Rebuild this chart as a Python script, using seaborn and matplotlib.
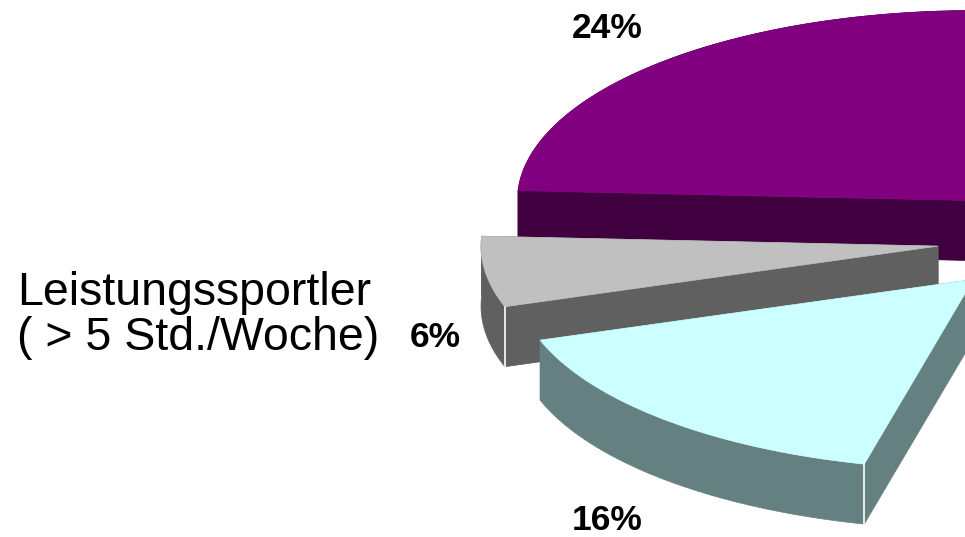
import numpy as np
import matplotlib
matplotlib.use("Agg")
import matplotlib.pyplot as plt
from matplotlib.patches import Polygon
import seaborn as sns

# ---- data ----
shares = [24, 6, 16]                      # percent of the visible slices
pct_labels = ["24%", "6%", "16%"]
category_lines = ["Leistungssportler", "( > 5 Std./Woche)"]
top_colors = ["#800080", "#C0C0C0", "#CCFFFF"]
side_colors = ["#400040", "#606060", "#658080"]

# ---- layout ----
sns.set_theme(style="white")
plt.rcParams['font.family'] = ['Liberation Sans', 'DejaVu Sans']

W, H = 965, 537
fig = plt.figure(figsize=(W / 100, H / 100), dpi=100)
ax = fig.add_axes([0, 0, 1, 1])
ax.set_xlim(0, W)
ax.set_ylim(H, 0)
ax.axis('off')

cx, cy, rx, ry, depth = 1063, 239, 457, 190, 60
start_angle = 90.6          # slices run counter-clockwise from here
explode = [0.28, 0.276, 0.29]

edges = start_angle + np.concatenate([[0], np.cumsum(shares)]) * 3.6


def proj(theta_deg, ox, oy):
    t = np.radians(theta_deg)
    return cx + ox + rx * np.cos(t), cy + oy - ry * np.sin(t)


for i, (a, b) in enumerate(zip(edges[:-1], edges[1:])):
    mid = np.radians((a + b) / 2)
    ox = explode[i] * rx * np.cos(mid)
    oy = -explode[i] * ry * np.sin(mid)
    z = 2 + i * 3
    ts = np.linspace(a, b, 240)
    top_arc = np.array([proj(t, ox, oy) for t in ts])
    bot_arc = top_arc + np.array([0, depth])
    apex = np.array([cx + ox, cy + oy])
    apex_b = apex + np.array([0, depth])

    # walls (all in side colour)
    wall = np.vstack([top_arc, bot_arc[::-1]])
    ax.add_patch(Polygon(wall, closed=True, fc=side_colors[i], ec=side_colors[i], lw=0.5, zorder=z))
    for p_top in (top_arc[0], top_arc[-1]):
        quad = np.array([apex, p_top, p_top + [0, depth], apex_b])
        ax.add_patch(Polygon(quad, closed=True, fc=side_colors[i], ec=side_colors[i], lw=0.5, zorder=z))
    # top face
    top = np.vstack([apex, top_arc])
    ax.add_patch(Polygon(top, closed=True, fc=top_colors[i], ec=top_colors[i], lw=0.5, zorder=z + 1))
    # white vertical edge where the visible radial face meets the visible outer wall
    tb = np.radians(b)
    if np.sin(tb) < 0 and np.cos(tb) < 0:
        p = top_arc[-1]
        ax.plot([p[0], p[0]], [p[1], p[1] + depth], color="white", lw=1.2, zorder=z + 2)
    ta = np.radians(a)
    if np.sin(ta) < 0 and np.cos(ta) > 0:
        p = top_arc[0]
        ax.plot([p[0], p[0]], [p[1], p[1] + depth], color="white", lw=1.2, zorder=z + 2)

# ---- texts ----
label_pos = [(607, 38), (435, 347), (607, 530)]
for txt, (x, y) in zip(pct_labels, label_pos):
    ax.text(x, y, txt, fontsize=25.5, fontweight='bold', ha='center', va='baseline',
            color='black', zorder=20)

ax.text(17, 305, category_lines[0], fontsize=33.5, ha='left', va='baseline', color='black', zorder=20)
ax.text(17, 350, category_lines[1], fontsize=33.5, ha='left', va='baseline', color='black', zorder=20)

fig.savefig("out.png", dpi=100, facecolor="white")
